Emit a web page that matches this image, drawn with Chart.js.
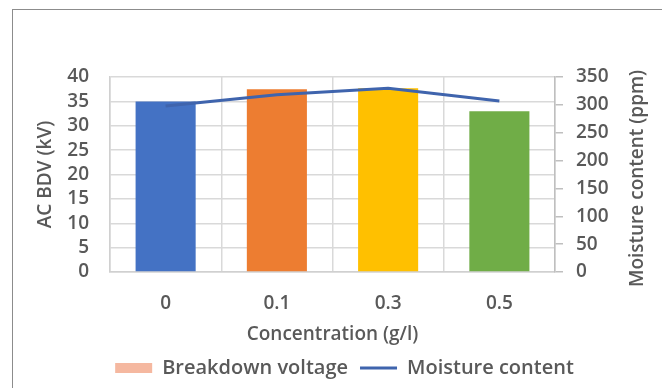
<!DOCTYPE html>
<html>
<head>
<meta charset="utf-8">
<script src="https://cdn.jsdelivr.net/npm/chart.js@4"></script>
<style>
  html, body { margin: 0; padding: 0; background: #fff; }
  #wrap { position: relative; width: 662px; height: 388px; }
  #frame { position: absolute; left: 12px; top: 9px; right: -2px; bottom: -2px; border-top: 1px solid #8c8c8c; border-left: 1px solid #8c8c8c; pointer-events: none; }
  canvas { position: absolute; left: 0; top: 0; }
</style>
</head>
<body>
<div id="wrap">
  <canvas id="c" width="662" height="388"></canvas>
  <div id="frame"></div>
</div>
<script>
const categories = ['0', '0.1', '0.3', '0.5'];
const breakdownVoltage = [35, 37.5, 37.7, 33];
const moistureContent = [298, 318, 330, 307];
const barColors = ['#4472C4', '#ED7D31', '#FFC000', '#70AD47'];
const leftTicks = [0, 5, 10, 15, 20, 25, 30, 35, 40];
const rightTicks = [0, 50, 100, 150, 200, 250, 300, 350];
const rightTitle = 'Moisture content (ppm)';

const FONT = "'Open Sans', sans-serif";
const FSIZE = 19;
const GRAY = '#595959';
const font = (s) => ({ family: FONT, size: s || FSIZE, weight: '600' });

const rightTitlePlugin = {
  id: 'rightTitle',
  afterDraw(chart) {
    const ctx = chart.ctx;
    const area = chart.chartArea;
    ctx.save();
    ctx.font = `600 ${FSIZE}px ${FONT}`;
    ctx.fillStyle = GRAY;
    ctx.textAlign = 'center';
    ctx.textBaseline = 'middle';
    ctx.translate(638, (area.top + area.bottom) / 2 + 4);
    ctx.rotate(-Math.PI / 2);
    ctx.fillText(rightTitle, 0, 0);
    ctx.restore();
  }
};

new Chart(document.getElementById('c'), {
  data: {
    labels: categories,
    datasets: [
      {
        type: 'line',
        label: 'Moisture content',
        data: moistureContent,
        yAxisID: 'y2',
        borderColor: '#3F64AD',
        backgroundColor: '#3F64AD',
        borderWidth: 3,
        pointRadius: 0,
        tension: 0,
        order: 0
      },
      {
        type: 'bar',
        label: 'Breakdown voltage',
        data: breakdownVoltage,
        yAxisID: 'y',
        backgroundColor: barColors,
        borderWidth: 0,
        barPercentage: 0.54,
        categoryPercentage: 1,
        order: 1
      }
    ]
  },
  plugins: [rightTitlePlugin],
  options: {
    responsive: false,
    animation: false,
    layout: { padding: { left: 34, right: 7, top: 77, bottom: 0 } },
    plugins: {
      tooltip: { enabled: false },
      legend: {
        position: 'bottom',
        reverse: true,
        labels: {
          font: font(20),
          color: GRAY,
          usePointStyle: true,
          pointStyleWidth: 37,
          boxWidth: 37,
          boxHeight: 10,
          padding: 12,
          generateLabels: (chart) => chart.data.datasets.map((ds, i) => ({
            text: ds.label,
            datasetIndex: i,
            fillStyle: ds.type === 'bar' ? '#F5B8A0' : '#3F64AD',
            strokeStyle: ds.type === 'bar' ? '#F5B8A0' : '#3F64AD',
            lineWidth: ds.type === 'bar' ? 0 : 3,
            pointStyle: ds.type === 'bar' ? 'rect' : 'line',
            fontColor: GRAY
          }))
        }
      }
    },
    scales: {
      x: {
        offset: true,
        afterFit: (axis) => { axis.height = 74; },
        grid: { display: true, offset: true, color: '#d9d9d9', lineWidth: 1.5, drawTicks: false },
        border: { display: true, color: '#d0d0d0', width: 1.5 },
        ticks: { font: font(), color: GRAY, padding: 20 },
        title: { display: true, text: 'Concentration (g/l)', font: font(), color: GRAY, padding: { top: 0, bottom: 0 } }
      },
      y: {
        position: 'left',
        min: 0, max: 40,
        afterFit: (axis) => { axis.width = 76; },
        afterBuildTicks: (axis) => { axis.ticks = leftTicks.map(v => ({ value: v })); },
        grid: { color: '#d9d9d9', lineWidth: 1.5, drawTicks: false },
        border: { display: true, color: '#d0d0d0', width: 1.5 },
        ticks: { font: font(), color: GRAY, padding: 21, autoSkip: false },
        title: { display: true, text: 'AC BDV (kV)', font: font(), color: GRAY, padding: { top: 0, bottom: 0 } }
      },
      y2: {
        position: 'right',
        min: 0, max: 350,
        afterFit: (axis) => { axis.width = 100; },
        afterBuildTicks: (axis) => { axis.ticks = rightTicks.map(v => ({ value: v })); },
        grid: { drawOnChartArea: false, color: '#bfbfbf', lineWidth: 1.5, tickLength: 8 },
        border: { display: true, color: '#bfbfbf', width: 1.5 },
        ticks: { font: font(), color: GRAY, padding: 13, autoSkip: false },
        title: { display: false }
      }
    }
  }
});
</script>
</body>
</html>
